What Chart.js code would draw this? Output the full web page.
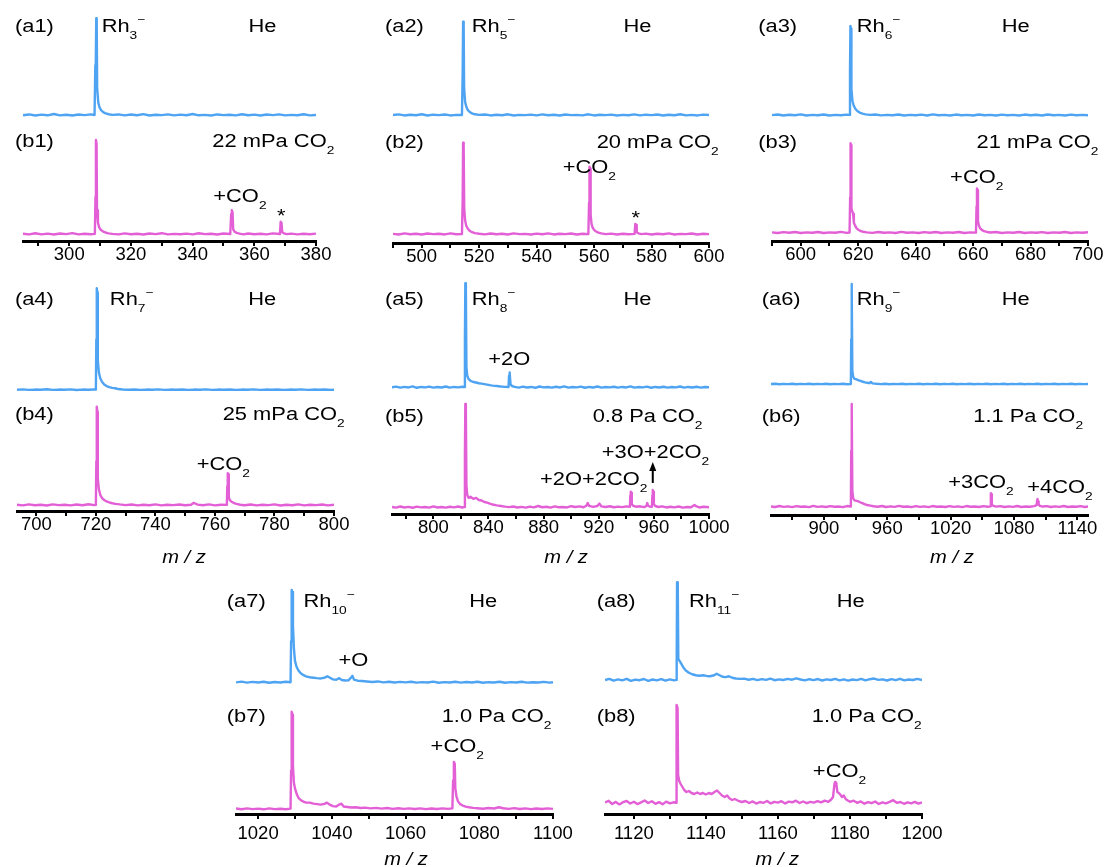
<!DOCTYPE html>
<html>
<head>
<meta charset="utf-8">
<title>Rh cluster anions with CO2 – mass spectra</title>
<script src="https://cdn.jsdelivr.net/npm/chart.js@4.4.1/dist/chart.umd.min.js"></script>
<style>
  html, body { margin: 0; padding: 0; background: #ffffff; }
  #stage { position: relative; width: 1108px; height: 867px; overflow: hidden; background: #ffffff; }
</style>
</head>
<body>
<div id="stage"></div>
<script>
// ---------------------------------------------------------------
// Spectra: [m/z, relative intensity]; the bare-cluster peak = 100
// ---------------------------------------------------------------

// Rh3-  (He / 22 mPa CO2)
const rh3He = [[285,0.8],[287,1.6],[289,0.5],[291,1.4],[293,0.7],[295,2.0],[297,0.6],[299,1.3],[301,0.5],[303,1.5],[305,0.9],[307,1.7],[308.2,1.0],[308.45,52],[308.6,55],[308.75,100],[308.9,97],[309.05,28],[309.4,14],[309.8,9],[310.3,6],[311,4],[311.8,2.6],[312.8,1.8],[314,1.1],[316,1.6],[318,0.6],[320,1.5],[322,0.8],[324,1.9],[326,0.5],[328,1.3],[330,0.9],[332,1.7],[334,0.6],[336,1.4],[338,0.8],[340,2.0],[342,0.7],[344,1.2],[346,0.5],[348,1.6],[350,0.9],[352,1.3],[354,0.6],[356,1.8],[358,0.8],[360,1.4],[362,0.5],[364,1.5],[366,0.9],[368,1.7],[370,0.6],[372,1.2],[374,0.8],[376,1.8],[378,0.6],[380,1.1]];
const rh3CO2 = [[285,1.3],[287,0.6],[289,1.8],[291,0.7],[293,1.4],[295,0.5],[297,1.6],[299,0.9],[301,2.0],[303,0.6],[305,1.3],[307,0.8],[308.3,1.2],[308.5,40],[308.65,100],[308.85,96],[309.0,26],[309.3,13],[309.7,8],[310.2,5.5],[310.9,3.8],[311.7,2.6],[312.7,1.7],[314,1.2],[316,0.6],[318,1.7],[320,0.8],[322,1.3],[324,0.5],[326,1.6],[328,0.9],[330,1.9],[332,0.6],[334,1.2],[336,0.8],[338,1.5],[340,0.6],[342,1.8],[344,0.9],[346,1.3],[348,0.5],[350,1.6],[352.2,1.0],[352.5,22],[352.7,26],[352.95,24],[353.15,6],[353.6,3.5],[354.3,2.2],[355.2,1.4],[356.5,0.7],[358,1.6],[360,0.8],[362,1.3],[364,0.6],[366,1.7],[368.3,1.0],[368.55,14],[368.8,13],[369.05,3],[369.6,1.8],[370.5,0.9],[372,1.5],[374,0.6],[376,1.3],[378,0.8],[380,1.5]];

// Rh5-  (He / 20 mPa CO2)
const rh5He = [[490,1.0],[492,1.7],[494,0.6],[496,1.3],[498,0.8],[500,1.9],[502,0.5],[504,1.4],[506,0.9],[508,1.6],[510,0.6],[512,1.2],[514,1.0],[514.25,45],[514.4,100],[514.6,97],[514.75,30],[515.1,15],[515.5,10],[516,6.5],[516.7,4.2],[517.5,2.8],[518.5,1.8],[520,1.2],[522,1.6],[524,0.6],[526,1.3],[528,0.8],[530,1.8],[532,0.5],[534,1.2],[536,0.9],[538,1.5],[540,0.6],[542,1.7],[544,0.8],[546,1.3],[548,0.5],[550,1.6],[552,0.9],[554,1.2],[556,0.7],[558,1.8],[560,0.6],[562,1.3],[564,0.9],[566,1.5],[568,0.5],[570,1.2],[572,0.8],[574,1.7],[576,0.6],[578,1.4],[580,0.9],[582,1.6],[584,0.5],[586,1.3],[588,0.8],[590,1.8],[592,0.7],[594,1.2],[596,0.6],[598,1.5],[600,1.0]];
const rh5CO2 = [[490,1.2],[492,0.6],[494,1.7],[496,0.8],[498,1.4],[500,0.5],[502,1.6],[504,0.9],[506,1.3],[508,0.6],[510,1.8],[512,0.8],[514,1.1],[514.25,38],[514.4,100],[514.6,96],[514.8,28],[515.1,16],[515.5,10],[516,7],[516.7,4.5],[517.5,3],[518.5,2],[520,1.3],[522,0.7],[524,1.6],[526,0.8],[528,1.3],[530,0.5],[532,1.7],[534,0.9],[536,1.2],[538,0.6],[540,1.5],[542,0.8],[544,1.8],[546,0.6],[548,1.3],[550,0.9],[552,1.6],[554,0.5],[556,1.3],[558,1.0],[558.25,35],[558.4,74],[558.6,72],[558.8,22],[559.1,12],[559.5,8],[560,5.5],[560.7,3.8],[561.5,2.6],[562.5,1.8],[564,1.0],[566,1.5],[568,0.6],[570,1.3],[572,0.8],[574.1,1.2],[574.35,12],[574.6,11],[574.85,3],[575.4,1.8],[576.5,1.0],[578,1.5],[580,0.6],[582,1.3],[584,0.8],[586,1.7],[588,0.6],[590,1.2],[592,0.9],[594,1.6],[596,0.5],[598,1.3],[600,0.9]];

// Rh6-  (He / 21 mPa CO2)
const rh6He = [[590,1.0],[592,1.6],[594,0.6],[596,1.4],[598,0.8],[600,1.8],[602,0.5],[604,1.3],[606,0.9],[608,1.6],[610,0.6],[612,1.2],[614,0.8],[616,1.5],[617,1.2],[617.15,50],[617.3,100],[617.5,97],[617.65,30],[618,17],[618.4,12],[619,8],[619.7,5.5],[620.5,3.8],[621.5,2.6],[622.6,1.8],[624,1.2],[626,1.6],[628,0.7],[630,1.3],[632,0.8],[634,1.7],[636,0.6],[638,1.2],[640,0.9],[642,1.5],[644,0.6],[646,1.8],[648,0.8],[650,1.3],[652,0.5],[654,1.6],[656,0.9],[658,1.2],[660,0.6],[662,1.7],[664,0.8],[666,1.3],[668,0.6],[670,1.5],[672,0.9],[674,1.2],[676,0.5],[678,1.6],[680,0.8],[682,1.4],[684,0.6],[686,1.7],[688,0.9],[690,1.2],[692,0.6],[694,1.5],[696,0.8],[698,1.3],[700,0.9]];
const rh6CO2 = [[590,1.3],[592,0.6],[594,1.5],[596,0.8],[598,1.7],[600,0.6],[602,1.2],[604,0.9],[606,1.6],[608,0.5],[610,1.3],[612,0.8],[614,1.8],[616,0.7],[617,1.1],[617.2,40],[617.35,100],[617.5,98],[617.65,28],[617.9,25],[618.2,22],[618.5,12],[618.9,9],[619.4,6],[620,4.2],[620.8,2.8],[621.8,1.9],[623,1.3],[625,0.7],[627,1.6],[629,0.8],[631,1.3],[633,0.6],[635,1.8],[637,0.9],[639,1.2],[641,0.5],[643,1.5],[645,0.9],[647,1.7],[649,0.6],[651,1.2],[653,0.8],[655,1.6],[657,0.6],[659,1.3],[661,1.0],[661.2,30],[661.35,50],[661.55,48],[661.7,14],[662,9],[662.4,6],[663,4],[663.8,2.6],[664.8,1.7],[666,1.1],[668,1.6],[670,0.6],[672,1.3],[674,0.8],[676,1.7],[678,0.5],[680,1.2],[682,0.9],[684,1.5],[686,0.6],[688,1.3],[690,0.8],[692,1.6],[694,0.6],[696,1.2],[698,0.9],[700,1.4]];

// Rh7-  (He / 25 mPa CO2)
const rh7He = [[693.5,0.9],[695.5,1.3],[697.5,0.8],[699.5,1.1],[701.5,0.9],[703.5,1.4],[705.5,0.8],[707.5,1.1],[709.5,0.9],[711.5,1.3],[713.5,0.7],[715.5,1.1],[717.5,0.9],[719.5,1.2],[720,1.0],[720.15,50],[720.3,100],[720.5,96],[720.65,30],[721,18],[721.5,12],[722.1,8.5],[722.8,6],[723.6,4.5],[724.5,3.5],[725.5,2.8],[726.5,2.4],[727.5,1.6],[729,1.2],[731,0.9],[733,1.2],[735,0.8],[737,1.1],[739,0.9],[741,1.3],[743,0.8],[745,1.1],[747,0.9],[749,1.2],[751,0.8],[753,1.1],[755,0.9],[757,1.3],[759,0.8],[761,1.1],[763,0.9],[765,1.2],[767,0.8],[769,1.1],[771,0.9],[773,1.3],[775,0.8],[777,1.1],[779,0.9],[781,1.2],[783,0.8],[785,1.1],[787,0.9],[789,1.3],[791,0.8],[793,1.1],[795,0.9],[797,1.2],[799,0.8],[800,1.0]];
const rh7CO2 = [[693.5,1.2],[695.5,0.6],[697.5,1.7],[699.5,0.8],[701.5,1.3],[703.5,0.5],[705.5,1.6],[707.5,0.9],[709.5,1.2],[711.5,0.6],[713.5,1.5],[715.5,0.8],[717.5,1.8],[719.5,0.9],[720,1.1],[720.15,45],[720.3,100],[720.5,95],[720.65,28],[721,17],[721.5,11],[722.1,8],[722.8,6],[723.6,4.6],[724.5,3.6],[725.5,2.8],[726.6,2.2],[728,1.6],[730,0.9],[732,1.5],[734,0.6],[736,1.3],[738,0.8],[740,1.6],[742,0.6],[744,1.2],[746,0.9],[748,1.5],[750,0.7],[752,1.3],[752.8,3.2],[753.4,2.5],[754.2,1.4],[756,0.8],[758,1.6],[760,0.6],[762,1.3],[764,1.1],[764.15,20],[764.3,33],[764.5,32],[764.65,9],[765,6],[765.5,4.5],[766.2,3.2],[767.2,2.2],[768.5,1.3],[770,0.8],[772,1.5],[774,0.6],[776,1.2],[778,0.9],[780,1.6],[782,0.5],[784,1.3],[786,0.8],[788,1.7],[790,0.6],[792,1.2],[794,0.9],[796,1.5],[798,0.6],[800,1.2]];

// Rh8-  (He / 0.8 Pa CO2)
const rh8He = [[770,1.0],[773,1.6],[776,0.6],[779,1.4],[782,0.8],[785,1.8],[788,0.5],[791,1.3],[794,0.9],[797,1.6],[800,0.6],[803,1.2],[806,0.8],[809,1.7],[812,0.6],[815,1.3],[818,0.9],[821,1.5],[822.6,1.2],[822.9,45],[823.2,100],[823.6,95],[824,20],[824.6,12],[825.5,9],[827,7],[829,6],[831,5.5],[833,4.8],[835,4.5],[837,4],[839,3.5],[841,3],[843,2.6],[846,2.2],[849,1.7],[852,1.4],[854.6,1.3],[854.9,12],[855.2,15],[855.6,14],[856,4],[857,2.2],[859,1.3],[862,0.7],[865,1.6],[868,0.8],[871,1.3],[874,0.5],[877,1.7],[880,0.9],[883,1.2],[886,0.6],[889,1.5],[892,0.8],[895,1.8],[898,0.6],[901,1.2],[904,0.9],[907,1.6],[910,0.5],[913,1.3],[916,0.8],[919,1.7],[922,0.6],[925,1.2],[928,0.9],[931,1.5],[934,0.6],[937,1.3],[940,0.8],[943,1.8],[946,0.6],[949,1.2],[952,0.9],[955,1.6],[958,0.5],[961,1.3],[964,0.8],[967,1.5],[970,0.6],[973,1.2],[976,0.9],[979,1.7],[982,0.6],[985,1.3],[988,0.8],[991,1.5],[994,0.6],[997,1.2],[1000,1.0]];
const rh8CO2 = [[770,1.3],[773,0.6],[776,1.7],[779,0.8],[782,1.4],[785,0.5],[788,1.6],[791,0.9],[794,1.2],[797,0.6],[800,1.8],[803,0.8],[806,1.3],[809,0.6],[812,1.5],[815,0.9],[818,1.7],[821,0.8],[822.6,1.3],[822.9,50],[823.2,100],[823.6,94],[824,22],[824.6,13],[825.5,10],[827,11],[829,9],[831,10],[833,8],[835,7.5],[837,6],[839,5.5],[841,4.5],[843,3.6],[846,2.8],[849,2.2],[852,1.6],[855,1.1],[858,1.7],[861,0.8],[864,1.4],[867,0.6],[870,1.6],[873,0.9],[876,2.2],[879,1.0],[882,1.5],[885,0.7],[888,1.8],[891,1.0],[894,1.3],[897,0.8],[900,2.0],[903,1.2],[906,1.8],[909,1.0],[911,2.5],[912,5],[913,2.3],[916,1.4],[919,2.2],[920.5,4.5],[922,1.8],[925,1.2],[928,2.0],[931,1.0],[934,1.6],[937,1.1],[940,1.8],[942.6,1.4],[942.9,12],[943.2,16],[943.6,15],[944,4],[945,2.4],[947,1.5],[950,1.9],[953,1.1],[954.6,2.2],[955.2,5],[955.8,2.5],[957,1.6],[958.6,1.5],[958.9,12],[959.2,17.5],[959.6,16],[960,4],[961,2.2],[963,1.3],[966,1.9],[969,0.8],[972,1.5],[975,0.9],[978,1.7],[981,0.7],[984,1.3],[987,1.0],[989.5,3.2],[990.5,2.0],[993,0.8],[996,1.5],[1000,1.0]];

// Rh9-  (He / 1.1 Pa CO2)
const rh9He = [[850,1.0],[854,1.3],[858,0.8],[862,1.1],[866,0.9],[870,1.2],[874,0.8],[878,1.1],[882,0.9],[886,1.3],[890,0.8],[894,1.1],[898,0.9],[902,1.2],[906,0.8],[910,1.1],[914,0.9],[918,1.3],[922,0.8],[925.6,1.0],[925.9,45],[926.2,100],[926.6,95],[927,14],[927.8,8],[929,6],[931,5.5],[933,4.5],[935,4],[937,3.2],[939,2.6],[941,2.2],[943,1.8],[944.5,3],[946,1.6],[950,1.2],[954,0.9],[958,1.2],[962,0.8],[966,1.1],[970,0.9],[974,1.3],[978,0.8],[982,1.1],[986,0.9],[990,1.2],[994,0.8],[998,1.1],[1002,0.9],[1006,1.3],[1010,0.8],[1014,1.1],[1018,0.9],[1022,1.2],[1026,0.8],[1030,1.1],[1034,0.9],[1038,1.3],[1042,0.8],[1046,1.1],[1050,0.9],[1054,1.2],[1058,0.8],[1062,1.1],[1066,0.9],[1070,1.3],[1074,0.8],[1078,1.1],[1082,0.9],[1086,1.2],[1090,0.8],[1094,1.1],[1098,0.9],[1102,1.3],[1106,0.8],[1110,1.1],[1114,0.9],[1118,1.2],[1122,0.8],[1126,1.1],[1130,0.9],[1134,1.3],[1138,0.8],[1142,1.1],[1146,0.9],[1150,1.0]];
const rh9CO2 = [[850,1.2],[854,0.7],[858,1.6],[862,0.8],[866,1.3],[870,0.6],[874,1.5],[878,0.9],[882,1.2],[886,0.6],[890,1.7],[894,0.8],[898,1.3],[902,0.7],[906,1.5],[910,0.9],[914,1.2],[918,0.6],[922,1.6],[925.6,1.1],[925.9,55],[926.2,100],[926.6,94],[927,16],[927.8,9],[929,7],[931,6.5],[933,6],[935,5],[937,4.2],[939,3.2],[941,2.6],[944,2],[947,1.4],[951,0.9],[955,1.6],[959,0.7],[963,1.3],[967,0.8],[971,1.7],[975,0.9],[979,1.2],[983,0.6],[987,1.5],[991,0.8],[995,1.3],[999,0.6],[1003,1.6],[1007,0.9],[1011,1.2],[1015,0.7],[1019,1.5],[1023,0.8],[1027,1.3],[1031,0.6],[1035,1.6],[1039,0.9],[1043,1.2],[1047,0.7],[1051,1.5],[1055,0.9],[1057.6,1.3],[1057.9,11],[1058.2,14],[1058.6,13],[1059,3],[1060.5,1.7],[1063,1.0],[1067,1.5],[1071,0.7],[1075,1.3],[1079,0.8],[1083,1.6],[1087,0.7],[1091,1.2],[1095,0.9],[1099,1.5],[1101.4,2.5],[1101.9,7],[1102.2,8.4],[1102.7,6],[1103.3,3],[1104.5,1.8],[1107,1.1],[1111,1.5],[1115,0.7],[1119,1.3],[1123,0.8],[1127,1.6],[1131,0.7],[1135,1.2],[1139,0.9],[1143,1.5],[1147,0.7],[1150,1.2]];

// Rh10-  (He / 1.0 Pa CO2)
const rh10He = [[1014,1.0],[1015.5,1.8],[1017,0.7],[1018.5,1.5],[1020,0.9],[1021.5,1.7],[1023,0.6],[1024.5,1.4],[1026,0.9],[1027.5,1.6],[1028.8,1.2],[1028.95,45],[1029.1,100],[1029.3,98],[1029.45,62],[1029.7,38],[1030,24],[1030.4,18],[1030.9,14],[1031.5,11],[1032.2,9],[1033,7.5],[1034,6.5],[1035,6],[1036,5.5],[1037,5.2],[1038,6],[1038.8,7.5],[1039.5,6],[1040.3,4.2],[1041.2,3.8],[1042,5.5],[1042.7,3.5],[1043.6,3],[1044.5,3.2],[1045.2,6],[1045.6,8],[1046,4],[1047,2.8],[1048.2,2.4],[1049.5,2.0],[1051,1.4],[1052.5,2],[1054,1.0],[1055.5,1.6],[1057,0.8],[1058.5,1.5],[1060,1.0],[1061.5,1.7],[1063,0.7],[1064.5,1.3],[1066,0.9],[1067.5,1.8],[1069,0.6],[1070.5,1.3],[1072,0.9],[1073.5,1.6],[1075,0.7],[1076.5,1.4],[1078,0.9],[1079.5,1.7],[1081,0.6],[1082.5,1.2],[1084,0.9],[1085.5,1.6],[1087,0.6],[1088.5,1.3],[1090,0.8],[1091.5,1.7],[1093,0.7],[1094.5,1.2],[1096,0.9],[1097.5,1.5],[1099,0.7],[1100,1.2]];
const rh10CO2 = [[1014,1.5],[1015.5,0.8],[1017,1.7],[1018.5,0.9],[1020,1.4],[1021.5,0.7],[1023,1.6],[1024.5,0.9],[1026,1.3],[1027.5,0.7],[1028.8,1.4],[1028.95,40],[1029.1,100],[1029.3,97],[1029.45,45],[1029.7,28],[1030,22],[1030.5,16],[1031,12],[1031.6,10],[1032.3,8.5],[1033,7.5],[1034,7.5],[1035,6.5],[1036,6],[1037,5.5],[1038,6.2],[1038.7,7.5],[1039.4,5.5],[1040.3,4],[1041.2,3.5],[1042,5.5],[1042.6,6.5],[1043.2,3.5],[1044.2,3],[1045.3,2.5],[1046.5,2.8],[1047.8,2],[1049,2.4],[1050.5,1.6],[1052,2.2],[1053.5,1.4],[1055,2.0],[1056.5,1.2],[1058,1.8],[1059.5,1.1],[1061,1.7],[1062.5,1.0],[1064,1.6],[1065.5,0.9],[1067,1.5],[1068.5,1.0],[1070,1.7],[1071.5,1.2],[1072.7,1.6],[1072.9,30],[1073.1,49],[1073.35,47],[1073.5,22],[1073.8,14],[1074.2,9],[1074.8,6],[1075.5,4.5],[1076.3,3.5],[1077.2,2.8],[1078.3,2.2],[1079.5,1.8],[1081,1.3],[1082.5,2.0],[1084,1.5],[1085.3,2.8],[1086.5,1.8],[1088,1.2],[1089.5,1.9],[1091,1.0],[1092.5,1.6],[1094,0.9],[1095.5,1.5],[1097,1.0],[1098.5,1.6],[1100,1.1]];

// Rh11-  (He / 1.0 Pa CO2)
const rh11He = [[1112,1.6],[1113.2,2.8],[1114.4,1.0],[1115.6,2.3],[1116.8,1.4],[1118,2.9],[1119.2,0.8],[1120.4,2.1],[1121.6,1.5],[1122.8,2.7],[1124,0.9],[1125.2,2.2],[1126.4,1.3],[1127.6,2.6],[1128.8,1.0],[1130,2.3],[1131.2,1.4],[1131.8,1.8],[1131.9,20],[1132,100],[1132.2,97],[1132.35,23],[1132.7,21],[1133.2,18],[1133.8,14],[1134.5,11],[1135.3,9],[1136.2,7.5],[1137.2,6.5],[1138.2,6],[1139.2,6.5],[1140.2,5.8],[1141.2,5.5],[1142.3,6.5],[1143,8],[1143.8,6.5],[1144.6,5],[1145.5,4.6],[1146.4,5.5],[1147.3,4],[1148.3,3.2],[1149.5,2.8],[1150.7,3.1],[1151.9,2.0],[1153.1,2.8],[1154.3,1.6],[1155.5,2.6],[1156.7,1.8],[1157.9,3.0],[1159.1,1.5],[1160.3,2.4],[1161.5,1.7],[1162.7,2.8],[1163.9,2.0],[1165.1,3.4],[1166.3,2.2],[1167.5,1.3],[1168.7,2.5],[1169.9,1.6],[1171.1,2.7],[1172.3,1.2],[1173.5,2.3],[1174.7,1.7],[1175.9,2.9],[1177.1,1.4],[1178.3,2.4],[1179.5,1.1],[1180.7,2.2],[1181.9,1.6],[1183.1,2.8],[1184.3,1.3],[1185.5,2.5],[1186.7,3.2],[1187.9,1.8],[1189.1,2.4],[1190.3,1.2],[1191.5,2.6],[1192.7,1.5],[1193.9,2.9],[1195.1,1.3],[1196.3,2.2],[1197.5,1.7],[1198.7,2.8],[1200,1.6]];
const rh11CO2 = [[1112,2.5],[1113,4.2],[1114,1.0],[1115,3.1],[1116,0.6],[1117,2.8],[1118,4.0],[1119,1.5],[1120,3.3],[1121,0.9],[1122,2.6],[1123,4.5],[1124,2.0],[1125,3.8],[1126,1.2],[1127,2.9],[1128,0.8],[1129,3.4],[1130,1.6],[1131,2.7],[1131.75,2.2],[1131.8,28],[1131.85,31],[1131.95,100],[1132.15,97],[1132.3,30],[1132.6,24],[1133,21],[1133.5,18],[1134,15],[1134.6,13],[1135.3,14],[1136,12],[1136.8,11],[1137.6,12.5],[1138.4,11],[1139.2,12],[1140,10.5],[1140.8,12],[1141.6,11],[1142.4,13],[1143.1,14.5],[1143.8,12],[1144.5,9.5],[1145.2,8],[1145.9,9.5],[1146.6,6.5],[1147.3,5],[1148,6],[1149,4.2],[1150,3],[1151,4],[1152,2],[1153,3.6],[1154,1.4],[1155,3],[1156,2.2],[1157,4.0],[1158,1.6],[1159,3.2],[1160,2.4],[1161,3.8],[1162,1.5],[1163,3.4],[1164,2.7],[1165,4.3],[1166,2.0],[1167,3.5],[1168,1.8],[1169,3.1],[1170,2.4],[1171,3.9],[1172,2.6],[1173,4.4],[1174,3.2],[1174.8,5.5],[1175.3,8],[1175.7,21],[1175.9,23],[1176.2,22],[1176.5,13],[1176.9,12],[1177.3,10.5],[1177.8,8],[1178.3,9.5],[1178.8,6],[1179.4,4.5],[1180,3.2],[1181,4.3],[1182,2.2],[1183,3.6],[1184,1.3],[1185,2.9],[1186,1.8],[1187,3.5],[1188,1.0],[1189,2.6],[1190,1.7],[1191,3.2],[1192,4.8],[1193,2.2],[1194,3.0],[1195,1.2],[1196,2.7],[1197,1.6],[1198,3.1],[1199,1.4],[1200,2.6]];

// Labelled m/z ticks of each panel (minor ticks fall halfway between)
const ticks1 = [300, 320, 340, 360, 380];
const ticks2 = [500, 520, 540, 560, 580, 600];
const ticks3 = [600, 620, 640, 660, 680, 700];
const ticks4 = [700, 720, 740, 760, 780, 800];
const ticks5 = [800, 840, 880, 920, 960, 1000];
const ticks6 = [900, 960, 1020, 1080, 1140];
const ticks7 = [1020, 1040, 1060, 1080, 1100];
const ticks8 = [1120, 1140, 1160, 1180, 1200];

// Text notes: x in m/z, y in intensity of the upper ('a') or lower ('b') trace.
// _{..} = subscript, ^{..} = superscript
const notes1 = [
  {on:'a', x:282.4, y:86, text:'(a1)'},
  {on:'a', x:310.5, y:86, text:'Rh_{3}^{−}'},
  {on:'a', x:358.1, y:86, text:'He'},
  {on:'b', x:282.4, y:92.6, text:'(b1)'},
  {on:'b', x:346.4, y:92.6, text:'22 mPa CO_{2}'},
  {on:'b', x:346.7, y:35, text:'+CO_{2}'},
  {on:'b', x:368.7, y:13.7, text:'*', align:'center'}
];
const notes2 = [
  {on:'a', x:487.2, y:89.1, text:'(a2)'},
  {on:'a', x:517.4, y:89.1, text:'Rh_{5}^{−}'},
  {on:'a', x:570.2, y:89.1, text:'He'},
  {on:'b', x:487.2, y:94.3, text:'(b2)'},
  {on:'b', x:560.9, y:94.3, text:'20 mPa CO_{2}'},
  {on:'b', x:549.1, y:67.2, text:'+CO_{2}'},
  {on:'b', x:574.5, y:11.9, text:'*', align:'center'}
];
const notes3 = [
  {on:'a', x:585.2, y:93.3, text:'(a3)'},
  {on:'a', x:619.5, y:93.3, text:'Rh_{6}^{−}'},
  {on:'a', x:670, y:93.3, text:'He'},
  {on:'b', x:585.2, y:94.8, text:'(b3)'},
  {on:'b', x:661.2, y:94.8, text:'21 mPa CO_{2}'},
  {on:'b', x:652, y:55.7, text:'+CO_{2}'}
];
const notes4 = [
  {on:'a', x:692.8, y:83.7, text:'(a4)'},
  {on:'a', x:724.7, y:83.7, text:'Rh_{7}^{−}'},
  {on:'a', x:771.2, y:83.7, text:'He'},
  {on:'b', x:692.8, y:86.6, text:'(b4)'},
  {on:'b', x:762.6, y:86.6, text:'25 mPa CO_{2}'},
  {on:'b', x:753.9, y:36.3, text:'+CO_{2}'},
  {on:'b', x:749.6, y:-57.4, text:'m / z', italic:true, align:'center', sx:1.15}
];
const notes5 = [
  {on:'a', x:764.9, y:79.3, text:'(a5)'},
  {on:'a', x:827.8, y:79.3, text:'Rh_{8}^{−}'},
  {on:'a', x:937.9, y:79.3, text:'He'},
  {on:'a', x:839.9, y:22.2, text:'+2O'},
  {on:'b', x:764.9, y:83, text:'(b5)'},
  {on:'b', x:915.6, y:83, text:'0.8 Pa CO_{2}'},
  {on:'b', x:922.2, y:47.9, text:'+3O+2CO_{2}'},
  {on:'b', x:877.4, y:22.3, text:'+2O+2CO_{2}'},
  {on:'b', x:896.3, y:-52.4, text:'m / z', italic:true, align:'center', sx:1.15}
];
const notes6 = [
  {on:'a', x:841.2, y:79.2, text:'(a6)'},
  {on:'a', x:931.1, y:79.2, text:'Rh_{9}^{−}'},
  {on:'a', x:1068.3, y:79.2, text:'He'},
  {on:'b', x:841.2, y:82.9, text:'(b6)'},
  {on:'b', x:1041.4, y:82.9, text:'1.1 Pa CO_{2}'},
  {on:'b', x:1017.7, y:18.7, text:'+3CO_{2}'},
  {on:'b', x:1092.5, y:13.9, text:'+4CO_{2}'},
  {on:'b', x:1021.2, y:-53.3, text:'m / z', italic:true, align:'center', sx:1.15}
];
const notes7 = [
  {on:'a', x:1011.5, y:82.1, text:'(a7)'},
  {on:'a', x:1032.3, y:82.1, text:'Rh_{10}^{−}'},
  {on:'a', x:1077.3, y:82.1, text:'He'},
  {on:'a', x:1041.8, y:18.9, text:'+O'},
  {on:'b', x:1011.5, y:89.8, text:'(b7)'},
  {on:'b', x:1069.8, y:89.8, text:'1.0 Pa CO_{2}'},
  {on:'b', x:1066.8, y:59.3, text:'+CO_{2}'},
  {on:'b', x:1060.1, y:-56, text:'m / z', italic:true, align:'center', sx:1.15}
];
const notes8 = [
  {on:'a', x:1109.7, y:75.5, text:'(a8)'},
  {on:'a', x:1135.3, y:75.5, text:'Rh_{11}^{−}'},
  {on:'a', x:1176.3, y:75.5, text:'He'},
  {on:'b', x:1109.7, y:83.3, text:'(b8)'},
  {on:'b', x:1169.4, y:83.3, text:'1.0 Pa CO_{2}'},
  {on:'b', x:1169.7, y:28.3, text:'+CO_{2}'},
  {on:'b', x:1159.8, y:-60, text:'m / z', italic:true, align:'center', sx:1.15}
];
// arrow pointing from the Rh8(3O)(2CO2) peak up to its label
const arrows5 = [{x:959.2, from:24.3, to:44.4}];

// ---------------------------------------------------------------
// Styling and panel layout
// ---------------------------------------------------------------
const HE_COLOR = '#4ea4f2';
const CO2_COLOR = '#e35fd6';
const FONT = '"Liberation Sans", Arial, Helvetica, sans-serif';
const PADX = 30;

// left/right: axis ends; axisY: axis line; aBase/aPeak and bBase/bPeak: page y of 0 and 100
const panels = [
  {a:rh3He,  b:rh3CO2,  ticks:ticks1, notes:notes1, arrows:[],
   g:{left:23,  right:316,  top:0,   height:272, axisY:241, xmin:285,   xmax:380,  aBase:116,   aPeak:18.3,  bBase:235,   bPeak:140,   tickPad:0}},
  {a:rh5He,  b:rh5CO2,  ticks:ticks2, notes:notes2, arrows:[],
   g:{left:393, right:709,  top:0,   height:272, axisY:243, xmin:490,   xmax:600,  aBase:116,   aPeak:21.7,  bBase:235,   bPeak:142.7, tickPad:0}},
  {a:rh6He,  b:rh6CO2,  ticks:ticks3, notes:notes3, arrows:[],
   g:{left:772, right:1088, top:0,   height:272, axisY:241, xmin:590,   xmax:700,  aBase:116,   aPeak:26,    bBase:233.5, bPeak:143.3, tickPad:0}},
  {a:rh7He,  b:rh7CO2,  ticks:ticks4, notes:notes4, arrows:[],
   g:{left:17,  right:334,  top:272, height:300, axisY:511, xmin:693.5, xmax:800,  aBase:390.7, aPeak:288.3, bBase:506,   bPeak:406.7, tickPad:0}},
  {a:rh8He,  b:rh8CO2,  ticks:ticks5, notes:notes5, arrows:arrows5,
   g:{left:392, right:709,  top:272, height:300, axisY:514, xmin:770,   xmax:1000, aBase:388.3, aPeak:283.3, bBase:508.3, bPeak:404,   tickPad:0}},
  {a:rh9He,  b:rh9CO2,  ticks:ticks6, notes:notes6, arrows:[],
   g:{left:771, right:1088, top:272, height:300, axisY:515, xmin:850,   xmax:1150, aBase:385,   aPeak:284,   bBase:507.7, bPeak:404,   tickPad:0}},
  {a:rh10He, b:rh10CO2, ticks:ticks7, notes:notes7, arrows:[],
   g:{left:236, right:553,  top:572, height:295, axisY:814, xmin:1014,  xmax:1100, aBase:683.3, aPeak:590,   bBase:810,   bPeak:711.7, tickPad:6}},
  {a:rh11He, b:rh11CO2, ticks:ticks8, notes:notes8, arrows:[],
   g:{left:605, right:922,  top:572, height:295, axisY:814, xmin:1112,  xmax:1200, aBase:681.7, aPeak:582.3, bBase:805,   bPeak:705,   tickPad:6}}
];

// Draws a string with _{sub} and ^{sup} parts, stretched horizontally by sx
function drawRich(ctx, note, x, y) {
  const size = note.size || 17.5;
  const small = 11;
  const sx = note.sx || 1.25;
  const style = note.italic ? 'italic ' : '';
  const segs = [];
  const re = /([_^])\{([^}]*)\}/g;
  let last = 0, m;
  while ((m = re.exec(note.text))) {
    if (m.index > last) segs.push({t: note.text.slice(last, m.index), k: ''});
    segs.push({t: m[2], k: m[1]});
    last = re.lastIndex;
  }
  if (last < note.text.length) segs.push({t: note.text.slice(last), k: ''});
  let total = 0;
  for (const s of segs) {
    s.font = style + (s.k ? small : size) + 'px ' + FONT;
    ctx.font = s.font;
    s.w = ctx.measureText(s.t).width * sx;
    total += s.w;
  }
  let cx = note.align === 'center' ? x - total / 2 : x;
  ctx.fillStyle = '#000';
  ctx.textAlign = 'left';
  ctx.textBaseline = 'alphabetic';
  for (const s of segs) {
    const dy = s.k === '_' ? 7 : (s.k === '^' ? -9 : 0);
    ctx.font = s.font;
    ctx.save();
    ctx.translate(cx, y + dy);
    ctx.scale(sx, 1);
    ctx.fillText(s.t, 0, 0);
    ctx.restore();
    cx += s.w;
  }
}

const notesPlugin = {
  id: 'notes',
  afterDatasetsDraw(chart, args, opts) {
    const ctx = chart.ctx;
    const xs = chart.scales.x;
    ctx.save();
    for (const n of (opts.items || [])) {
      const ys = chart.scales[n.on === 'a' ? 'ya' : 'yb'];
      drawRich(ctx, n, xs.getPixelForValue(n.x), ys.getPixelForValue(n.y));
    }
    for (const a of (opts.arrows || [])) {
      const ys = chart.scales.yb;
      const px = xs.getPixelForValue(a.x);
      const y0 = ys.getPixelForValue(a.from);
      const y1 = ys.getPixelForValue(a.to);
      ctx.strokeStyle = '#000';
      ctx.fillStyle = '#000';
      ctx.lineWidth = 2;
      ctx.beginPath();
      ctx.moveTo(px, y0);
      ctx.lineTo(px, y1 + 7);
      ctx.stroke();
      ctx.beginPath();
      ctx.moveTo(px, y1);
      ctx.lineTo(px - 3.5, y1 + 9);
      ctx.lineTo(px + 3.5, y1 + 9);
      ctx.closePath();
      ctx.fill();
    }
    ctx.restore();
  }
};

const stage = document.getElementById('stage');

panels.forEach(p => {
  const g = p.g;
  const w = g.right - g.left + 2 * PADX;
  const cv = document.createElement('canvas');
  cv.width = w;
  cv.height = g.height;
  cv.style.cssText = 'position:absolute;left:' + (g.left - PADX) + 'px;top:' + g.top + 'px;width:' + w + 'px;height:' + g.height + 'px';
  stage.appendChild(cv);

  const majors = p.ticks;
  const half = (majors[1] - majors[0]) / 2;

  const chart = new Chart(cv, {
    type: 'line',
    data: {
      datasets: [
        {label: 'He', data: p.a.map(d => ({x: d[0], y: d[1]})), yAxisID: 'ya',
         borderColor: HE_COLOR, borderWidth: 2.4, pointRadius: 0, tension: 0, borderJoinStyle: 'round', fill: false},
        {label: 'CO2', data: p.b.map(d => ({x: d[0], y: d[1]})), yAxisID: 'yb',
         borderColor: CO2_COLOR, borderWidth: 2.4, pointRadius: 0, tension: 0, borderJoinStyle: 'round', fill: false}
      ]
    },
    options: {
      responsive: false,
      animation: false,
      devicePixelRatio: 1,
      events: [],
      layout: {padding: {left: PADX, right: PADX, top: 0, bottom: 0}},
      plugins: {
        legend: {display: false},
        tooltip: {enabled: false},
        notes: {items: p.notes, arrows: p.arrows}
      },
      scales: {
        x: {
          type: 'linear',
          position: 'bottom',
          min: g.xmin,
          max: g.xmax,
          border: {display: true, color: '#000', width: 3},
          grid: {display: true, drawOnChartArea: false, drawTicks: true, tickLength: 5, color: '#000', lineWidth: 2},
          ticks: {
            autoSkip: false, maxRotation: 0, minRotation: 0, includeBounds: false,
            color: '#000', padding: g.tickPad,
            font: {family: FONT, size: 18.5, lineHeight: 1},
            callback: v => (majors.includes(v) ? String(v) : '')
          },
          afterBuildTicks: scale => {
            let start = majors[0];
            while (start - half >= g.xmin - 1e-9) start -= half;
            const list = [];
            for (let v = start; v <= g.xmax + 1e-9; v += half) list.push({value: v});
            scale.ticks = list;
          }
        },
        ya: {type: 'linear', display: false, min: 0, max: 100},
        yb: {type: 'linear', display: false, min: 0, max: 100}
      }
    },
    plugins: [notesPlugin]
  });

  // put the axis line where the layout wants it
  const wantBottom = g.axisY - g.top;
  chart.options.layout.padding.bottom += chart.chartArea.bottom - wantBottom;
  chart.update();

  // vertical ranges: 0 of each trace sits on its baseline, 100 on its peak top
  const ca = chart.chartArea;
  const fit = (id, base, peak) => {
    const k = (base - peak) / 100;
    const min = -(ca.bottom - (base - g.top)) / k;
    chart.options.scales[id].min = min;
    chart.options.scales[id].max = min + (ca.bottom - ca.top) / k;
  };
  fit('ya', g.aBase, g.aPeak);
  fit('yb', g.bBase, g.bPeak);
  chart.update();
});
</script>
</body>
</html>
